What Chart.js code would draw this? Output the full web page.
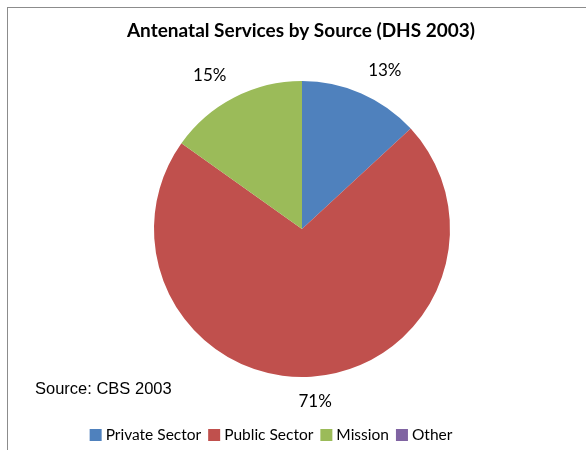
<!DOCTYPE html>
<html lang="en">
<head>
<meta charset="UTF-8">
<title>Antenatal Services by Source</title>
<script src="https://cdn.jsdelivr.net/npm/chart.js"></script>
<style>
    html, body { margin: 0; padding: 0; background: #fff; }
    #wrap { width: 586px; height: 450px; }
</style>
</head>
<body>
<div id="wrap"><canvas id="pie" width="586" height="450"></canvas></div>
<script>
    const sources = ['Private Sector', 'Public Sector', 'Mission', 'Other'];
    const shares = [13, 71, 15, 0];
    const colors = ['#4F81BD', '#C0504D', '#9BBB59', '#8064A2'];

    const FONT = 'Lato, "Open Sans", sans-serif';

    // frame, title, source note, percent labels and legend
    const decorations = {
        id: 'decorations',
        beforeDraw(chart) {
            const ctx = chart.ctx;
            ctx.save();
            ctx.strokeStyle = '#8c8c8c';
            ctx.lineWidth = 1;
            ctx.strokeRect(7.5, 7.5, 700, 700);
            ctx.restore();
        },
        afterDraw(chart) {
            const ctx = chart.ctx;
            ctx.save();
            ctx.fillStyle = '#000';
            ctx.textAlign = 'center';
            ctx.textBaseline = 'middle';
            ctx.font = 'bold 19px ' + FONT;
            ctx.fillText('Antenatal Services by Source (DHS 2003)', 301, 31);

            ctx.textAlign = 'left';
            ctx.font = '16.5px "Liberation Sans", Arial, sans-serif';
            ctx.fillText('Source: CBS 2003', 35, 389);

            // percent labels just outside each slice, nudged away from the pie
            const meta = chart.getDatasetMeta(0);
            ctx.font = '17px ' + FONT;
            ctx.textAlign = 'center';
            meta.data.forEach((arc, i) => {
                if (!shares[i]) return;
                const txt = shares[i] + '%';
                const w = ctx.measureText(txt).width, h = 16;
                const mid = (arc.startAngle + arc.endAngle) / 2;
                const r = arc.outerRadius + 17;
                const c = Math.cos(mid), s = Math.sin(mid);
                const kx = Math.max(-1, Math.min(1, c * 2.5));
                const x = arc.x + c * r + kx * w / 2;
                const y = arc.y + s * r + s * h / 2;
                ctx.fillText(txt, x, y);
            });

            // legend row
            ctx.font = '15.5px ' + FONT;
            ctx.textAlign = 'left';
            const box = 12, gap = 4, spacing = 7;
            let total = 0;
            const widths = sources.map(s => ctx.measureText(s).width);
            widths.forEach(w => total += box + gap + w);
            total += spacing * (sources.length - 1);
            let x = 271 - total / 2;
            const y = 435;
            sources.forEach((s, i) => {
                ctx.fillStyle = colors[i];
                ctx.fillRect(x, y - box / 2, box, box);
                ctx.fillStyle = '#000';
                ctx.fillText(s, x + box + gap, y);
                x += box + gap + widths[i] + spacing;
            });
            ctx.restore();
        }
    };

    new Chart(document.getElementById('pie'), {
        type: 'pie',
        data: {
            labels: sources,
            datasets: [{
                data: shares,
                backgroundColor: colors,
                borderWidth: 0
            }]
        },
        options: {
            responsive: false,
            animation: false,
            layout: { padding: { left: 18, right: 0, top: 81, bottom: 73 } },
            plugins: {
                legend: { display: false },
                title: { display: false },
                tooltip: { enabled: false }
            }
        },
        plugins: [decorations]
    });
</script>
</body>
</html>
